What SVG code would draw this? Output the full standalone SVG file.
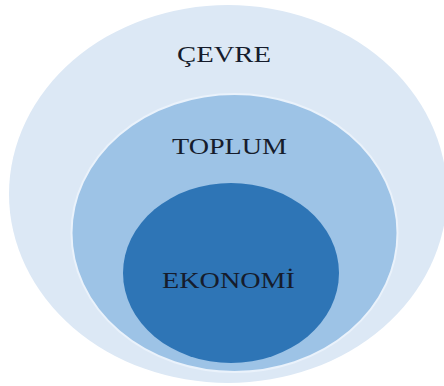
<svg xmlns="http://www.w3.org/2000/svg" width="444" height="386" viewBox="0 0 444 386">
<style>
text{font-family:"Liberation Serif","Times New Roman",serif;font-size:23px;fill:#161c2c;text-anchor:middle}
</style>
<rect width="444" height="386" fill="#ffffff"/>
<g id="cevre">
<ellipse cx="228" cy="194" rx="219" ry="189" fill="#dce8f5"/>
<text x="224" y="62" textLength="94" lengthAdjust="spacingAndGlyphs">ÇEVRE</text>
</g>
<g id="toplum">
<ellipse cx="234.5" cy="233" rx="163" ry="139" fill="#9dc3e6" stroke="#eaf2fb" stroke-width="2"/>
<text x="229.5" y="154" textLength="115" lengthAdjust="spacingAndGlyphs">TOPLUM</text>
</g>
<g id="ekonomi">
<ellipse cx="231" cy="273" rx="108" ry="90" fill="#2e75b6"/>
<text x="228.5" y="288" textLength="133" lengthAdjust="spacingAndGlyphs">EKONOMİ</text>
</g>
<g id="connectors"/>
</svg>
